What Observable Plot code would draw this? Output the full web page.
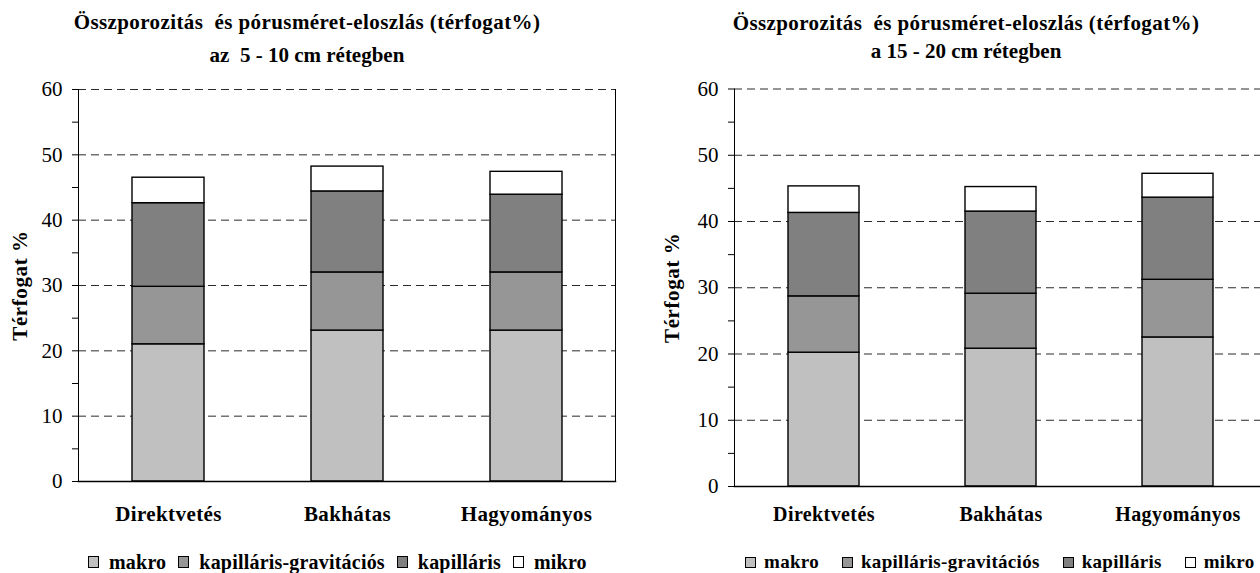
<!DOCTYPE html>
<html><head><meta charset="utf-8">
<script src="https://cdn.jsdelivr.net/npm/d3@7"></script>
<script src="https://cdn.jsdelivr.net/npm/@observablehq/plot@0.6"></script>
<style>
html,body{margin:0;padding:0;background:#fff;overflow:hidden;}
#root{position:relative;width:1260px;height:573px;overflow:hidden;font-family:"Liberation Serif",serif;color:#000;background:#fff;}
.t{position:absolute;width:600px;text-align:center;font-weight:bold;font-size:21px;line-height:21px;white-space:pre;}
.legend{position:absolute;display:flex;align-items:center;font-weight:bold;white-space:nowrap;line-height:20px;height:20px;}
.sw{display:inline-block;border:1px solid #000;box-sizing:border-box;}
.pl{position:absolute;}
.pl text{font-family:"Liberation Serif",serif;}
.pl g[aria-label="x-axis tick label"] text{letter-spacing:0.4px;}
.pl .ylab{letter-spacing:0.6px;}
</style></head>
<body><div id="root"></div>
<script>
const categories = ["Direktvetés", "Bakhátas", "Hagyományos"];
const series = ["makro", "kapilláris-gravitációs", "kapilláris", "mikro"];
const colors = ["#c0c0c0", "#969696", "#808080", "#ffffff"];
const yTicks = [0, 10, 20, 30, 40, 50, 60];
const yMinorTicks = [5, 15, 25, 35, 45, 55];
const gridTicks = [10, 20, 30, 40, 50, 60];
// 5 - 10 cm layer
const makroA = [21.0, 23.1, 23.1];
const kapgravA = [8.8, 8.9, 8.9];
const kapA = [12.8, 12.4, 11.9];
const mikroA = [3.9, 3.8, 3.5];
// 15 - 20 cm layer
const makroB = [20.2, 20.8, 22.5];
const kapgravB = [8.5, 8.3, 8.7];
const kapB = [12.6, 12.4, 12.4];
const mikroB = [4.0, 3.7, 3.6];
const titleLine1 = "Összporozitás  és pórusméret-eloszlás (térfogat%)";
const titleA2 = "az  5 - 10 cm rétegben";
const titleB2 = "a 15 - 20 cm rétegben";
const yLabel = "Térfogat %";

function rows(vals) {
  const out = [];
  categories.forEach((c, i) => series.forEach((s, j) => out.push({cat: c, ser: s, v: vals[j][i]})));
  return out;
}

function chart(o) {
  return Plot.plot({
    width: o.width, height: o.height,
    marginLeft: o.ml, marginRight: o.mr, marginTop: o.mt, marginBottom: o.mb,
    style: {fontFamily: "'Liberation Serif', serif", fontSize: "20px", background: "transparent", overflow: "visible", color: "#000"},
    x: {domain: categories, paddingInner: 0.6, paddingOuter: 0.3, align: 0.5},
    y: {domain: [0, 60]},
    color: {domain: series, range: colors},
    marks: [
      Plot.ruleY(gridTicks, {stroke: "#2a2a2a", strokeDasharray: "8,5", strokeWidth: 1}),
      Plot.barY(o.data, {x: "cat", y: "v", fill: "ser", stroke: "#000", strokeWidth: 1.4}),
      Plot.frame({anchor: "left", stroke: "#000"}),
      Plot.frame({anchor: "bottom", stroke: "#000", strokeWidth: 1.5}),
      Plot.frame({anchor: "right", stroke: "#000"}),
      Plot.axisY({ticks: yTicks, tickSize: 6, tickPadding: 10, label: null, fontSize: 21, fontFamily: "Liberation Serif"}),
      Plot.axisY({ticks: yMinorTicks, tickSize: 6, tickFormat: () => "", label: null}),
      Plot.axisX({tickSize: 0, tickPadding: o.xPad, fontWeight: "bold", fontSize: o.xFont, fontFamily: "Liberation Serif", label: null}),
      Plot.text([yLabel], {text: d => d, frameAnchor: "left", textAnchor: "middle", lineAnchor: "middle", rotate: -90, dx: o.labelDx, fontWeight: "bold", fontSize: 21, fontFamily: "Liberation Serif", className: "ylab"})
    ]
  });
}

const root = document.getElementById("root");

function addTitle(text, centerX, top, ls) {
  const d = document.createElement("div");
  d.className = "t";
  d.textContent = text;
  d.style.left = (centerX - 300) + "px";
  d.style.top = top + "px";
  d.style.letterSpacing = ls + "px";
  root.appendChild(d);
}

function addLegend(left, top, fs, swW, swH, swGap, itemGap, ls) {
  const lg = document.createElement("div");
  lg.className = "legend";
  lg.style.left = left + "px";
  lg.style.top = top + "px";
  lg.style.fontSize = fs + "px";
  lg.style.letterSpacing = ls + "px";
  series.forEach((s, i) => {
    const sw = document.createElement("span");
    sw.className = "sw";
    sw.style.width = swW + "px";
    sw.style.height = swH + "px";
    sw.style.background = colors[i];
    sw.style.marginRight = swGap + "px";
    if (i > 0) sw.style.marginLeft = itemGap + "px";
    const tx = document.createElement("span");
    tx.textContent = s;
    lg.appendChild(sw);
    lg.appendChild(tx);
  });
  root.appendChild(lg);
}

// Panel A
addTitle(titleLine1, 307, 12, 0.4);
addTitle(titleA2, 307, 45, 0);
const a = chart({data: rows([makroA, kapgravA, kapA, mikroA]), width: 630, height: 470, ml: 78, mr: 15, mt: 19, mb: 59, xPad: 25, xFont: 21, labelDx: -58});
a.classList.add("pl");
a.style.left = "0px"; a.style.top = "70px";
root.appendChild(a);
addLegend(88, 552, 20, 11, 12, 10, 12, 0.2);

// Panel B
addTitle(titleLine1, 966, 13, 0.4);
addTitle(titleB2, 966, 41, 0);
const b = chart({data: rows([makroB, kapgravB, kapB, mikroB]), width: 645, height: 470, ml: 104, mr: 8, mt: 18.5, mb: 54, xPad: 20, xFont: 20, labelDx: -62});
b.classList.add("pl");
b.style.left = "630px"; b.style.top = "70px";
b.style.maxWidth = "none";
root.appendChild(b);
addLegend(745, 552, 19, 11, 11, 8, 23, 0.3);
</script>
</body></html>
